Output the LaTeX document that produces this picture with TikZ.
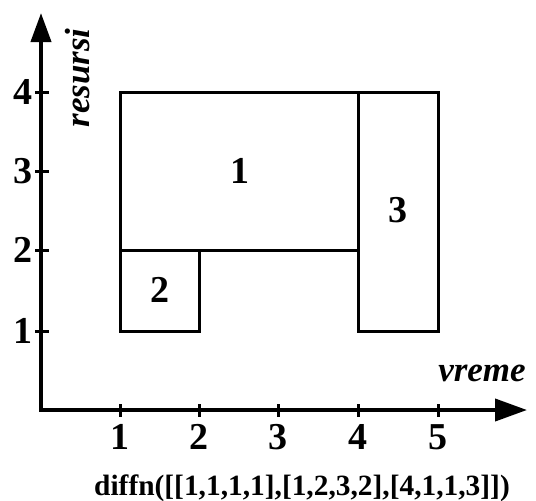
\documentclass[tikz,border=0pt]{standalone}
\usepackage{fontspec}
\setmainfont{Liberation Serif}
\usetikzlibrary{arrows.meta}
\tikzset{
  axisline/.style={line width=4pt, line join=miter},
  tickmark/.style={line width=3pt},
  boxline/.style={line width=3pt},
  ticklabel/.style={inner sep=0pt, font=\fontsize{38}{40}\selectfont\bfseries},
  boxlabel/.style={inner sep=0pt, font=\fontsize{38}{40}\selectfont\bfseries},
  axislabel/.style={inner sep=0pt, font=\fontsize{35}{37}\selectfont\bfseries\itshape},
  captionlabel/.style={inner sep=0pt, font=\fontsize{29.4}{31}\selectfont\bfseries}
}
\begin{document}
\begin{tikzpicture}[x=1pt,y=-1pt]
\useasboundingbox (0,0) rectangle (536,501);
% axes
\coordinate (ytip) at (41,13);
\coordinate (orig) at (41,410);
\coordinate (xtip) at (527,410);
\draw[axisline, {Triangle[length=29pt,width=20pt]}-{Triangle[length=32pt,width=22pt]}] (ytip) -- (orig) -- (xtip);
% ticks
\foreach \y/\n in {92/4,171/3,250/2,331/1} {
  \draw[tickmark] (35,\y) -- (49,\y);
  \node[ticklabel] (yl\n) at (23,\y) {\n};
}
\foreach \x/\n in {120/1,199/2,278/3,358/4,438/5} {
  \draw[tickmark] (\x,404) -- (\x,417);
  \node[ticklabel] (xl\n) at (\x,437) {\n};
}
% boxes
\draw[boxline] (120,92) rectangle (358,250);
\draw[boxline] (120,250) rectangle (199,331);
\draw[boxline] (358,92) rectangle (438,331);
\node[boxlabel] (b1) at (239.5,171) {1};
\node[boxlabel] (b2) at (160,290) {2};
\node[boxlabel] (b3) at (398,210) {3};
% axis labels
\node[axislabel, rotate=90, anchor=base] (ylab) at (89,78) {resursi};
\node[axislabel, anchor=base] (xlab) at (482,381) {vreme};
% caption
\node[captionlabel, anchor=base] (cap) at (302,495) {diffn([[1,1,1,1],[1,2,3,2],[4,1,1,3]])};
\end{tikzpicture}
\end{document}
